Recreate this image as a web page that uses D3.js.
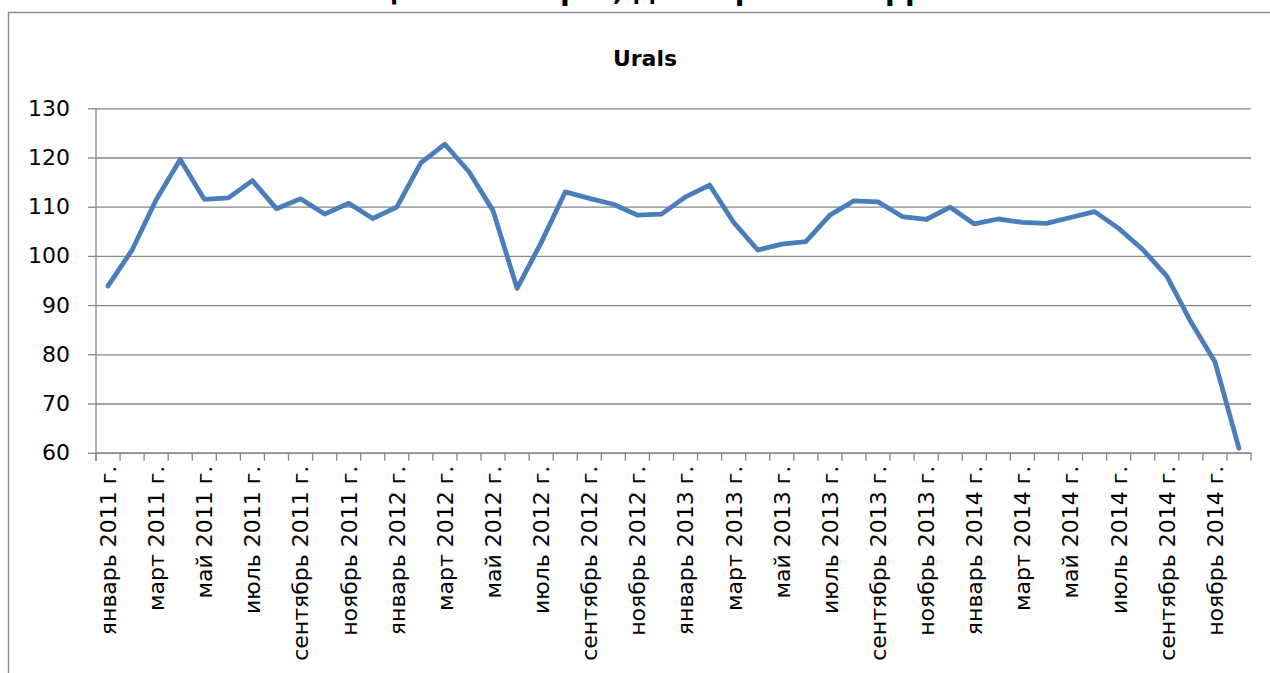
<!DOCTYPE html>
<html>
<head>
<meta charset="utf-8">
<script src="https://cdn.jsdelivr.net/npm/d3@7"></script>
<style>
  html, body { margin: 0; padding: 0; background: #fff; overflow: hidden; }
  svg { display: block; }
</style>
</head>
<body>
<svg id="chart" width="1270" height="673"></svg>
<script>
// ---- data ----
const monthNames = ["январь","февраль","март","апрель","май","июнь","июль","август","сентябрь","октябрь","ноябрь","декабрь"];
const years = [2011, 2012, 2013, 2014];
const categories = years.flatMap(yr => monthNames.map(m => `${m} ${yr} г.`));
const uralsValues = [
  93.9, 101.2, 111.4, 119.6, 111.5, 111.8, 115.3, 109.6, 111.6, 108.5, 110.7, 107.6,
  109.9, 118.9, 122.7, 117.1, 109.2, 93.4, 102.7, 113.0, 111.7, 110.5, 108.3, 108.5,
  112.0, 114.4, 106.8, 101.2, 102.4, 102.9, 108.3, 111.2, 111.0, 108.0, 107.4, 109.9,
  106.5, 107.5, 106.8, 106.6, 107.8, 109.0, 105.6, 101.3, 95.9, 86.6, 78.5, 60.9
];
const yTicks = [60, 70, 80, 90, 100, 110, 120, 130];
const mainTitle = "Цена на нефть, долларов за баррель";
const seriesTitle = "Urals";

// ---- layout ----
(function draw() {
const svg = d3.select("#chart");
const pLeft = 96, pRight = 1251, pTop = 108.3, pBottom = 452.7;
const font = "DejaVu Sans";
const gridColor = "#868686";

const x = d3.scaleBand().domain(categories).range([pLeft, pRight]).padding(0);
const y = d3.scaleLinear().domain([60, 130]).range([pBottom, pTop]);

// outer frame (extends past the viewport on right/bottom)
svg.append("rect")
  .attr("x", 8.5).attr("y", 12.5).attr("width", 1300).attr("height", 700)
  .attr("fill", "none").attr("stroke", "#8c8c8c").attr("stroke-width", 1.4);

// main title, mostly above the top edge as in the reference
svg.append("text")
  .attr("x", 677).attr("y", 0)
  .attr("text-anchor", "middle")
  .attr("font-family", font).attr("font-weight", "bold").attr("font-size", 28)
  .attr("fill", "#000")
  .text(mainTitle);

// series title
svg.append("text")
  .attr("x", 645).attr("y", 66)
  .attr("text-anchor", "middle")
  .attr("font-family", font).attr("font-weight", "bold").attr("font-size", 22)
  .attr("fill", "#000")
  .text(seriesTitle);

// gridlines
const grid = svg.append("g").attr("transform", `translate(${pLeft},0)`)
  .call(d3.axisLeft(y).tickValues(yTicks).tickSize(-(pRight - pLeft)).tickSizeOuter(0).tickFormat(""));
grid.select(".domain").remove();
grid.selectAll(".tick line").attr("stroke", gridColor).attr("stroke-width", 1.3);

// y axis with labels
const yAxis = svg.append("g").attr("transform", `translate(${pLeft},0)`)
  .call(d3.axisLeft(y).tickValues(yTicks).tickSize(8).tickSizeOuter(0).tickPadding(18));
yAxis.select(".domain").attr("stroke", gridColor).attr("stroke-width", 1.3)
  .attr("d", `M0,${pTop}V${pBottom + 8}`);
yAxis.selectAll(".tick line").attr("stroke", gridColor).attr("stroke-width", 1.3);
yAxis.selectAll(".tick text")
  .attr("font-family", font).attr("font-size", 22).attr("fill", "#000");

// x axis: labels at band centres (every second month)
const xAxis = svg.append("g").attr("transform", `translate(0,${pBottom})`)
  .call(d3.axisBottom(x).tickSize(0).tickValues(categories.filter((c, i) => i % 2 === 0)));
xAxis.select(".domain").attr("stroke", gridColor).attr("stroke-width", 1.3);
xAxis.selectAll(".tick text")
  .attr("font-family", font).attr("font-size", 22).attr("fill", "#000")
  .attr("text-anchor", "end")
  .attr("x", 0).attr("y", 0).attr("dy", "0.36em")
  .attr("transform", "translate(0,13) rotate(-90)");

// x boundary ticks (between months)
const boundaries = categories.map(c => x(c)).concat([x.range()[1]]);
svg.append("g").selectAll("line").data(boundaries).join("line")
  .attr("x1", d => d).attr("x2", d => d)
  .attr("y1", pBottom).attr("y2", pBottom + 8)
  .attr("stroke", gridColor).attr("stroke-width", 1.3);

// the line
const line = d3.line()
  .x((d, i) => x(categories[i]) + x.bandwidth() / 2)
  .y(d => y(d));
svg.append("path")
  .datum(uralsValues)
  .attr("d", line)
  .attr("fill", "none")
  .attr("stroke", "#4a7ebb")
  .attr("stroke-width", 4.8)
  .attr("stroke-linejoin", "round")
  .attr("stroke-linecap", "round");
})();
</script>
</body>
</html>
